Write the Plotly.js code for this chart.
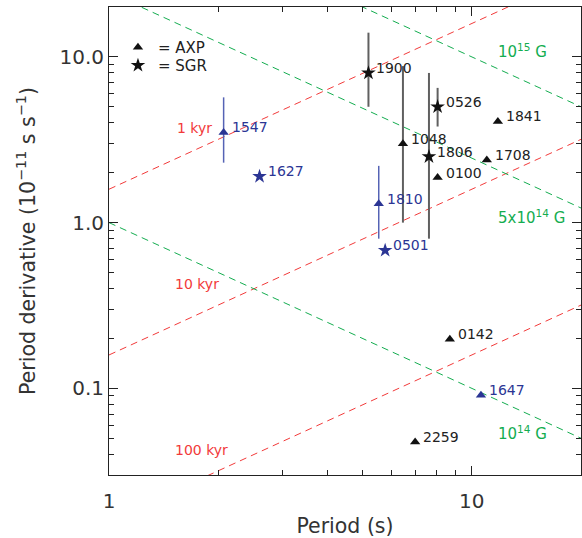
<!DOCTYPE html>
<html><head><meta charset="utf-8">
<script src="https://cdn.plot.ly/plotly-3.0.1.min.js"></script>
<style>html,body{margin:0;padding:0;background:#fff}</style>
</head><body><div id="chart" style="width:582px;height:538px"></div>
<script>
// ---- data (period in s, period derivative in 1e-11 s/s) ----
const axpBlackName = ['1048', '0100', '1841', '1708', '0142', '2259'];
const axpBlackP    = [6.46, 8.05, 11.8, 11.0, 8.70, 6.98];
const axpBlackPdot = [2.99, 1.87, 4.08, 2.39, 0.198, 0.0475];
const axpBlackLo   = [1.0, null, null, null, null, null];
const axpBlackHi   = [8.8, null, null, null, null, null];

const axpBlueName = ['1547', '1810', '1647'];
const axpBlueP    = [2.07, 5.54, 10.6];
const axpBluePdot = [3.5, 1.30, 0.091];
const axpBlueLo   = [2.3, 0.80, null];
const axpBlueHi   = [5.7, 2.2, null];

const sgrBlackName = ['1900', '1806', '0526'];
const sgrBlackP    = [5.19, 7.62, 8.05];
const sgrBlackPdot = [8.0, 2.5, 5.0];
const sgrBlackLo   = [5.0, 0.80, 3.8];
const sgrBlackHi   = [14.0, 8.0, 6.5];

const sgrBlueName = ['1627', '0501'];
const sgrBlueP    = [2.60, 5.77];
const sgrBluePdot = [1.90, 0.68];

// guide lines: end points at P = 1 s and P = 20 s
const guideP   = [1, 20];
const age1kyr   = [1.59, 31.8];
const age10kyr  = [0.159, 3.18];
const age100kyr = [0.0159, 0.318];
const b1e15     = [100, 5.0];
const b5e14     = [24.5, 1.225];
const b1e14     = [1.0, 0.05];

const ageLabels = ['1 kyr', '10 kyr', '100 kyr'];
const bLabels = ['10<sup>15</sup> G', '5x10<sup>14</sup> G', '10<sup>14</sup> G'];

// ---- styling ----
const FONT = 'DejaVu Sans, sans-serif';
const TXT = '#333';
const RED = '#f23a3a';
const GREEN = '#14ad50';
const BLUE = '#2b3594';
const BLUEBAR = '#5563b5';
const GRAYBAR = '#606060';

function err(y, lo, hi) {
  return {
    type: 'data', symmetric: false,
    array: y.map((v, i) => hi[i] == null ? 0 : hi[i] - v),
    arrayminus: y.map((v, i) => lo[i] == null ? 0 : v - lo[i]),
    width: 0, thickness: 2
  };
}
function guide(y, color) {
  return {x: guideP, y: y, mode: 'lines', line: {color: color, width: 1, dash: '7px,5px'},
          showlegend: false, hoverinfo: 'skip'};
}

const traces = [
  guide(age1kyr, RED), guide(age10kyr, RED), guide(age100kyr, RED),
  guide(b1e15, GREEN), guide(b5e14, GREEN), guide(b1e14, GREEN),
  {x: axpBlackP, y: axpBlackPdot, mode: 'markers', name: '= AXP', legend: 'legend',
    marker: {symbol: 'triangle-up', size: 9, color: '#111'},
    error_y: Object.assign(err(axpBlackPdot, axpBlackLo, axpBlackHi), {color: GRAYBAR})},
  {x: sgrBlackP, y: sgrBlackPdot, mode: 'markers', name: '= SGR', legend: 'legend2',
    marker: {symbol: 'star', size: 11, color: '#111'},
    error_y: Object.assign(err(sgrBlackPdot, sgrBlackLo, sgrBlackHi), {color: GRAYBAR})},
  {x: axpBlueP, y: axpBluePdot, mode: 'markers', showlegend: false,
    marker: {symbol: 'triangle-up', size: 9, color: BLUE},
    error_y: Object.assign(err(axpBluePdot, axpBlueLo, axpBlueHi), {color: BLUEBAR, thickness: 1.5})},
  {x: sgrBlueP, y: sgrBluePdot, mode: 'markers', showlegend: false,
    marker: {symbol: 'star', size: 11, color: BLUE}}
];

const annotations = [];
function labels(names, P, Pd, color) {
  names.forEach((n, i) => annotations.push({
    x: Math.log10(P[i]), y: Math.log10(Pd[i]), xref: 'x', yref: 'y', text: n,
    showarrow: false, xanchor: 'left', yanchor: 'middle', xshift: 6, yshift: 5,
    font: {family: FONT, size: 14, color: color}
  }));
}
labels(axpBlackName, axpBlackP, axpBlackPdot, '#222');
labels(sgrBlackName, sgrBlackP, sgrBlackPdot, '#222');
labels(axpBlueName, axpBlueP, axpBluePdot, BLUE);
labels(sgrBlueName, sgrBlueP, sgrBluePdot, BLUE);

const ageLabelPos = [[0.139, 0.741], [0.135, 0.408], [0.135, 0.053]];
ageLabels.forEach((t, i) => annotations.push({
  x: ageLabelPos[i][0], y: ageLabelPos[i][1], xref: 'paper', yref: 'paper', text: t,
  showarrow: false, xanchor: 'left', yanchor: 'middle', font: {family: FONT, size: 14, color: RED}
}));
const bLabelPos = [[0.820, 0.905], [0.820, 0.551], [0.820, 0.090]];
bLabels.forEach((t, i) => annotations.push({
  x: bLabelPos[i][0], y: bLabelPos[i][1], xref: 'paper', yref: 'paper', text: t,
  showarrow: false, xanchor: 'left', yanchor: 'middle', font: {family: FONT, size: 15, color: GREEN}
}));

const axisCommon = {
  type: 'log', showline: true, linecolor: '#222', linewidth: 1, mirror: 'allticks',
  ticks: 'inside', ticklen: 9, tickwidth: 1, tickcolor: '#222',
  showgrid: false, zeroline: false,
  tickfont: {family: FONT, size: 20, color: TXT}
};

const legendCommon = {xanchor: 'left', yanchor: 'top', bgcolor: 'rgba(0,0,0,0)',
  font: {family: FONT, size: 15, color: '#222'}, itemwidth: 30, tracegroupgap: 0};

const layout = {
  width: 582, height: 538,
  margin: {l: 109, r: 1, t: 7, b: 63},
  paper_bgcolor: '#fff', plot_bgcolor: '#fff',
  font: {family: FONT, color: TXT},
  xaxis: Object.assign({}, axisCommon, {
    range: [0, Math.log10(20)],
    tickmode: 'array', tickvals: [1, 10], ticktext: ['1', '10'],
    ticklabelstandoff: 8,
    minor: {tickmode: 'array', tickvals: [2, 3, 4, 5, 6, 7, 8, 9, 20], ticks: 'inside', ticklen: 5, tickcolor: '#222'},
    title: {text: 'Period (s)', font: {family: FONT, size: 20.5, color: TXT}, standoff: 6}
  }),
  yaxis: Object.assign({}, axisCommon, {
    range: [Math.log10(0.03), Math.log10(20)],
    tickmode: 'array', tickvals: [0.1, 1, 10], ticktext: ['0.1', '1.0', '10.0'],
    minor: {tickmode: 'array', tickvals: [0.03, 0.04, 0.05, 0.06, 0.07, 0.08, 0.09,
      0.2, 0.3, 0.4, 0.5, 0.6, 0.7, 0.8, 0.9, 2, 3, 4, 5, 6, 7, 8, 9, 20],
      ticks: 'inside', ticklen: 5, tickcolor: '#222'},
    title: {text: 'Period derivative (10<sup>−11</sup> s s<sup>−1</sup>)', font: {family: FONT, size: 20.5, color: TXT}, standoff: 18}
  }),
  legend: Object.assign({x: 0.019, y: 0.9487}, legendCommon),
  legend2: Object.assign({x: 0.019, y: 0.910}, legendCommon),
  annotations: annotations,
  showlegend: true
};

Plotly.newPlot('chart', traces, layout, {displayModeBar: false, staticPlot: true});
</script></body></html>
